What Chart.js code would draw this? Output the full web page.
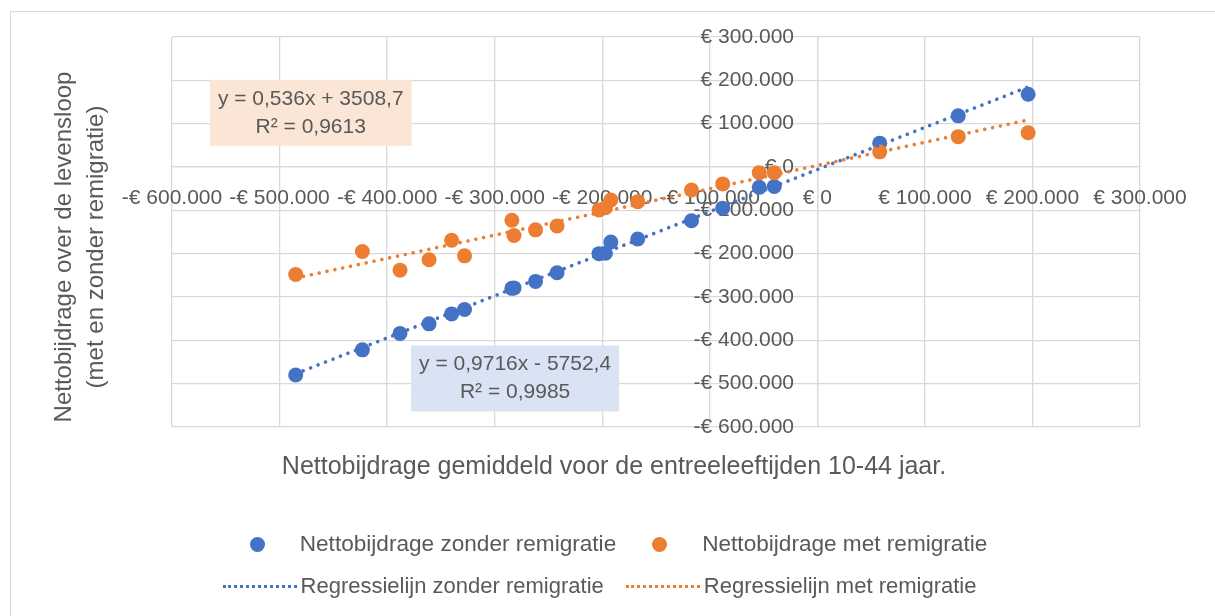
<!DOCTYPE html>
<html lang="nl">
<head>
<meta charset="utf-8">
<script src="https://cdn.jsdelivr.net/npm/chart.js@4.4.1/dist/chart.umd.min.js"></script>
<style>
  html, body { margin: 0; padding: 0; background: #fff; overflow: hidden; }
  body { width: 1215px; height: 616px; position: relative; font-family: "Liberation Sans", Arial, sans-serif; color: #595959; }
  #frame { position: absolute; left: 10px; top: 11px; width: 1230px; height: 640px; border-left: 1.5px solid #d9d9d9; border-top: 1.5px solid #d9d9d9; }
  #chartBox { position: absolute; left: 0; top: 0; width: 1215px; height: 616px; }
  #yTitle { position: absolute; left: 79px; top: 247px; width: 440px; transform: translate(-50%, -50%) rotate(-90deg); text-align: center; font-size: 24px; line-height: 32px; white-space: nowrap; }
  #xTitle { position: absolute; left: 0; width: 1228px; top: 451px; text-align: center; font-size: 25px; line-height: 28px; white-space: nowrap; }
  .legendRow { position: absolute; left: 0; width: 1215px; display: flex; justify-content: center; align-items: center; font-size: 22.6px; white-space: nowrap; }
  .legendItem { display: flex; align-items: center; }
  .dot { width: 15px; height: 15px; border-radius: 50%; margin: 0 35px 0 0; }
  .dash { width: 74px; height: 0; border-top: 3px dotted; margin-right: 4px; }
</style>
</head>
<body>
<div id="frame"></div>
<div id="chartBox"><canvas id="scatterChart" width="1215" height="616"></canvas></div>
<div id="yTitle">Nettobijdrage over de levensloop<br>(met en zonder remigratie)</div>
<div id="xTitle">Nettobijdrage gemiddeld voor de entreeleeftijden 10-44 jaar.</div>
<div class="legendRow" id="legendRow1" style="top: 531px; left: 11px;"></div>
<div class="legendRow" id="legendRow2" style="top: 573px; left: -8px; font-size: 22px;"></div>
<script>
// gemiddelde nettobijdrage per entreeleeftijd (x) en levensloop-bijdrage (y)
const xValues = [-485000, -423000, -388000, -361000, -340000, -328000, -284000, -282000, -262000, -242000, -203000, -197000, -192000, -167000, -117000, -88000, -54000, -40000, 58000, 131000, 196000];
const yZonder = [-480000, -422000, -384000, -362000, -339000, -329000, -280000, -279000, -264000, -244000, -200000, -199000, -173000, -166000, -124000, -95000, -47000, -45000, 55000, 118000, 168000];
const yMet = [-248000, -195000, -238000, -214000, -169000, -205000, -123000, -158000, -145000, -136000, -99000, -94000, -76000, -80000, -53000, -39000, -13000, -13000, 35000, 70000, 79000];

// trendlijnen zoals weergegeven in de grafiek
const slopeZonder = 0.9716, interceptZonder = -5752.4;
const slopeMet = 0.536, interceptMet = 3508.7;

const xTickLabels = ["-€ 600.000", "-€ 500.000", "-€ 400.000", "-€ 300.000", "-€ 200.000", "-€ 100.000", "€ 0", "€ 100.000", "€ 200.000", "€ 300.000"];
const yTickLabels = ["-€ 600.000", "-€ 500.000", "-€ 400.000", "-€ 300.000", "-€ 200.000", "-€ 100.000", "€ 0", "€ 100.000", "€ 200.000", "€ 300.000"];
const axisMin = -600000, axisMax = 300000, axisStep = 100000;

const seriesNames = ["Nettobijdrage zonder remigratie", "Nettobijdrage met remigratie", "Regressielijn zonder remigratie", "Regressielijn met remigratie"];
const blue = "#4472C4";
const orange = "#ED7D31";
const textColor = "#595959";
const gridColor = "#d9d9d9";
const fontFamily = "'Liberation Sans', Arial, sans-serif";

const labelBoxes = [
  { lines: ["y = 0,536x + 3508,7", "R² = 0,9613"], cx: -471000, cy: 125000, fill: "#FBE5D6" },
  { lines: ["y = 0,9716x - 5752,4", "R² = 0,9985"], cx: -281000, cy: -488000, fill: "#DAE3F3" },
];

function toPoints(xs, ys) {
  return xs.map((x, i) => ({ x: x, y: ys[i] }));
}
function trendPoints(slope, intercept) {
  const lo = Math.min(...xValues), hi = Math.max(...xValues);
  return [{ x: lo, y: slope * lo + intercept }, { x: hi, y: slope * hi + intercept }];
}
function tickLabel(list, value) {
  const idx = Math.round((value - axisMin) / axisStep);
  return list[idx] || "";
}

const labelBoxPlugin = {
  id: "labelBoxes",
  afterDraw(chart) {
    const ctx = chart.ctx;
    const xs = chart.scales.x, ys = chart.scales.y;
    ctx.save();
    ctx.font = "21px " + fontFamily;
    ctx.textAlign = "center";
    ctx.textBaseline = "middle";
    labelBoxes.forEach((b) => {
      const w = Math.max(...b.lines.map((l) => ctx.measureText(l).width)) + 16;
      const lineH = 28;
      const h = b.lines.length * lineH + 10;
      const cx = xs.getPixelForValue(b.cx);
      const cy = ys.getPixelForValue(b.cy);
      ctx.fillStyle = b.fill;
      ctx.fillRect(cx - w / 2, cy - h / 2, w, h);
      ctx.fillStyle = textColor;
      b.lines.forEach((l, i) => {
        ctx.fillText(l, cx, cy - h / 2 + 5 + lineH * (i + 0.5));
      });
    });
    ctx.restore();
  },
};

const ctx = document.getElementById("scatterChart").getContext("2d");
const scatterChart = new Chart(ctx, {
  type: "scatter",
  data: {
    datasets: [
      {
        label: seriesNames[0],
        data: toPoints(xValues, yZonder),
        backgroundColor: blue,
        borderColor: blue,
        pointRadius: 7.5,
        pointBorderWidth: 0,
        order: 3,
      },
      {
        label: seriesNames[1],
        data: toPoints(xValues, yMet),
        backgroundColor: orange,
        borderColor: orange,
        pointRadius: 7.5,
        pointBorderWidth: 0,
        order: 2,
      },
      {
        type: "line",
        label: seriesNames[2],
        data: trendPoints(slopeZonder, interceptZonder),
        borderColor: blue,
        borderWidth: 3.6,
        borderDash: [0.01, 8],
        borderCapStyle: "round",
        pointRadius: 0,
        fill: false,
        order: 1,
      },
      {
        type: "line",
        label: seriesNames[3],
        data: trendPoints(slopeMet, interceptMet),
        borderColor: orange,
        borderWidth: 3.6,
        borderDash: [0.01, 8],
        borderCapStyle: "round",
        pointRadius: 0,
        fill: false,
        order: 1,
      },
    ],
  },
  options: {
    responsive: false,
    animation: false,
    layout: { padding: { left: 172, right: 75, top: 37, bottom: 189 } },
    plugins: { legend: { display: false }, tooltip: { enabled: false } },
    scales: {
      x: {
        type: "linear",
        position: { y: 0 },
        min: axisMin,
        max: axisMax,
        grid: { color: gridColor, lineWidth: 1.3, drawTicks: false },
        border: { color: gridColor, width: 1.3 },
        ticks: {
          stepSize: axisStep,
          autoSkip: false,
          maxRotation: 0,
          minRotation: 0,
          padding: 19,
          color: textColor,
          font: { family: fontFamily, size: 21 },
          callback: (v) => tickLabel(xTickLabels, v),
        },
      },
      y: {
        type: "linear",
        position: { x: 0 },
        min: axisMin,
        max: axisMax,
        grid: { color: gridColor, lineWidth: 1.3, drawTicks: false },
        border: { color: gridColor, width: 1.3 },
        ticks: {
          stepSize: axisStep,
          autoSkip: false,
          color: textColor,
          font: { family: fontFamily, size: 21 },
          // labels staan links van de as; ruimte tot de as via spaties
          callback: (v) => tickLabel(yTickLabels, v) + "    ",
        },
      },
    },
  },
  plugins: [labelBoxPlugin],
});

// legenda in twee rijen, zoals in de bron
function buildLegend() {
  const row1 = document.getElementById("legendRow1");
  const row2 = document.getElementById("legendRow2");
  const colors = [blue, orange];
  [0, 1].forEach((i) => {
    const item = document.createElement("div");
    item.className = "legendItem";
    item.style.marginRight = i === 0 ? "36px" : "0";
    item.innerHTML = '<span class="dot" style="background:' + colors[i] + '"></span><span>' + seriesNames[i] + "</span>";
    row1.appendChild(item);
  });
  [2, 3].forEach((i) => {
    const item = document.createElement("div");
    item.className = "legendItem";
    item.style.marginRight = i === 2 ? "22px" : "0";
    item.innerHTML = '<span class="dash" style="border-color:' + colors[i - 2] + '"></span><span>' + seriesNames[i] + "</span>";
    row2.appendChild(item);
  });
}
buildLegend();
</script>
</body>
</html>
